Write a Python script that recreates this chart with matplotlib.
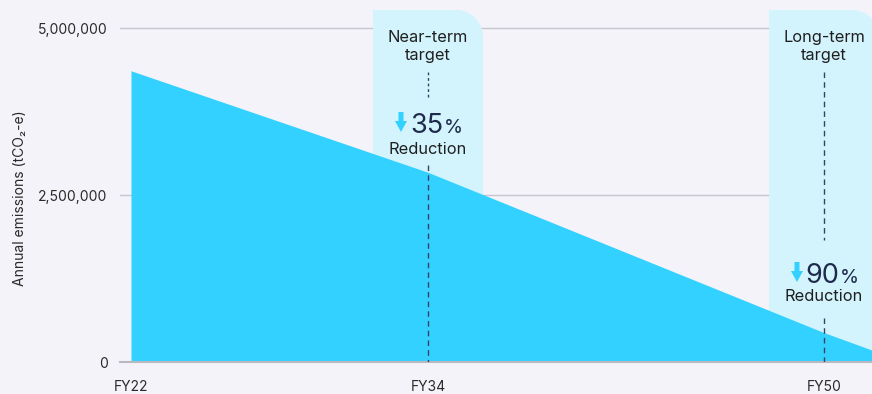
import numpy as np
import matplotlib
matplotlib.use("Agg")
import matplotlib.pyplot as plt
import matplotlib.transforms as mtransforms
from matplotlib.path import Path
from matplotlib.patches import PathPatch, Polygon
from matplotlib.ticker import FuncFormatter

plt.rcParams['font.family'] = ['Inter', 'DejaVu Sans']

# data
years = [22, 34, 50, 52]
emissions = [4360000, 2840000, 440000, 170000]
tick_years = [22, 34, 50]
tick_labels = ['FY22', 'FY34', 'FY50']
y_ticks = [0, 2500000, 5000000]
target_years = [34, 50]
target_names = ['Near-term\ntarget', 'Long-term\ntarget']
target_cuts = ['35', '90']

BG = '#f3f3f9'
AREA = '#33d1ff'
BOX = '#d3f4fd'
NAVY = '#1e2b4d'
DASH = '#34445f'

fig = plt.figure(figsize=(8.72, 3.94), dpi=100, facecolor=BG)
ax = fig.add_axes([120 / 872, 32 / 394, 752 / 872, 352 / 394])
ax.set_facecolor(BG)

ax.fill_between(years, emissions, 0, color=AREA, lw=0, zorder=2)

ax.set_xlim(21.556, 51.94)
ax.set_ylim(0, 5270000)

ax.set_xticks(tick_years)
ax.set_xticklabels(tick_labels)
ax.set_yticks(y_ticks)
ax.yaxis.set_major_formatter(FuncFormatter(lambda v, p: f'{v:,.0f}'))
ax.tick_params(axis='x', length=0, pad=13, labelsize=10, labelcolor='#2a2a2a')
ax.tick_params(axis='y', length=0, pad=9, labelsize=10, labelcolor='#2a2a2a')
ax.grid(axis='y', color='#c6c6ce', lw=1)
ax.set_axisbelow(True)
for s in ['top', 'right', 'left']:
    ax.spines[s].set_visible(False)
ax.spines['bottom'].set_color('#b9b9c1')
ax.spines['bottom'].set_linewidth(1.5)

ax.set_ylabel('Annual emissions (tCO₂-e)', fontsize=10, color='#2a2a2a')
ax.yaxis.set_label_coords(-0.124, 0.466)

x0, x1 = ax.get_xlim()
xspan = x1 - x0
px_per_year = 752 / xspan
half_w = 55 / px_per_year
rx, ry = 27 / 752, 27 / 352
k = 0.5523

trans_x = ax.get_xaxis_transform()

# upper / lower dashed segments in axes fraction and reduction text positions
upper_dash = [(0.824, 0.753, (2, 2)), (0.824, 0.347, (4, 3))]
lower_dash = [(0.560, 0.0), (0.125, 0.0)]
num_base = [0.6506, 0.2244]
red_y = [0.605, 0.185]

for i, yr in enumerate(target_years):
    l = (yr - half_w - x0) / xspan
    r = (yr + half_w - x0) / xspan
    top = 1.0
    verts = [(l, 0), (l, top), (r - rx, top),
             (r - rx * (1 - k), top), (r, top - ry * (1 - k)), (r, top - ry),
             (r, 0), (l, 0)]
    codes = [Path.MOVETO, Path.LINETO, Path.LINETO,
             Path.CURVE4, Path.CURVE4, Path.CURVE4,
             Path.LINETO, Path.CLOSEPOLY]
    ax.add_patch(PathPatch(Path(verts, codes), transform=ax.transAxes,
                           facecolor=BOX, edgecolor='none', zorder=1))

    ua, ub, dsh = upper_dash[i]
    ax.plot([yr, yr], [ua, ub], transform=trans_x, color=DASH, lw=1,
            dashes=dsh, zorder=3)
    la, lb = lower_dash[i]
    ax.plot([yr, yr], [la, lb], transform=trans_x, color=DASH, lw=1,
            dashes=(4, 3), zorder=3)

    ax.text(yr, 0.896, target_names[i], transform=trans_x, ha='center',
            va='center', fontsize=11.8, color='#1f1f1f', linespacing=1.2,
            zorder=4)
    ax.annotate(target_cuts[i], xy=(yr, num_base[i]), xycoords=trans_x,
                xytext=(15, 0), textcoords='offset pixels', ha='right',
                va='baseline', fontsize=19.5, color=NAVY, zorder=4)
    ax.annotate('%', xy=(yr, num_base[i]), xycoords=trans_x,
                xytext=(16, 0), textcoords='offset pixels', ha='left',
                va='baseline', fontsize=14, color=NAVY, zorder=4)
    ax.text(yr, red_y[i], 'Reduction', transform=trans_x, ha='center',
            va='center', fontsize=11.8, color='#1f1f1f', zorder=4)

    arrow = [(-29.5, 21), (-24.5, 21), (-24.5, 12), (-21, 12), (-27, 1),
             (-33, 12), (-29.5, 12)]
    atrans = mtransforms.Affine2D() + mtransforms.ScaledTranslation(
        yr, num_base[i], trans_x)
    ax.add_patch(Polygon(arrow, closed=True, transform=atrans,
                         facecolor=AREA, edgecolor='none', zorder=4,
                         clip_on=False))

fig.savefig('out.png', dpi=100, facecolor=BG)
